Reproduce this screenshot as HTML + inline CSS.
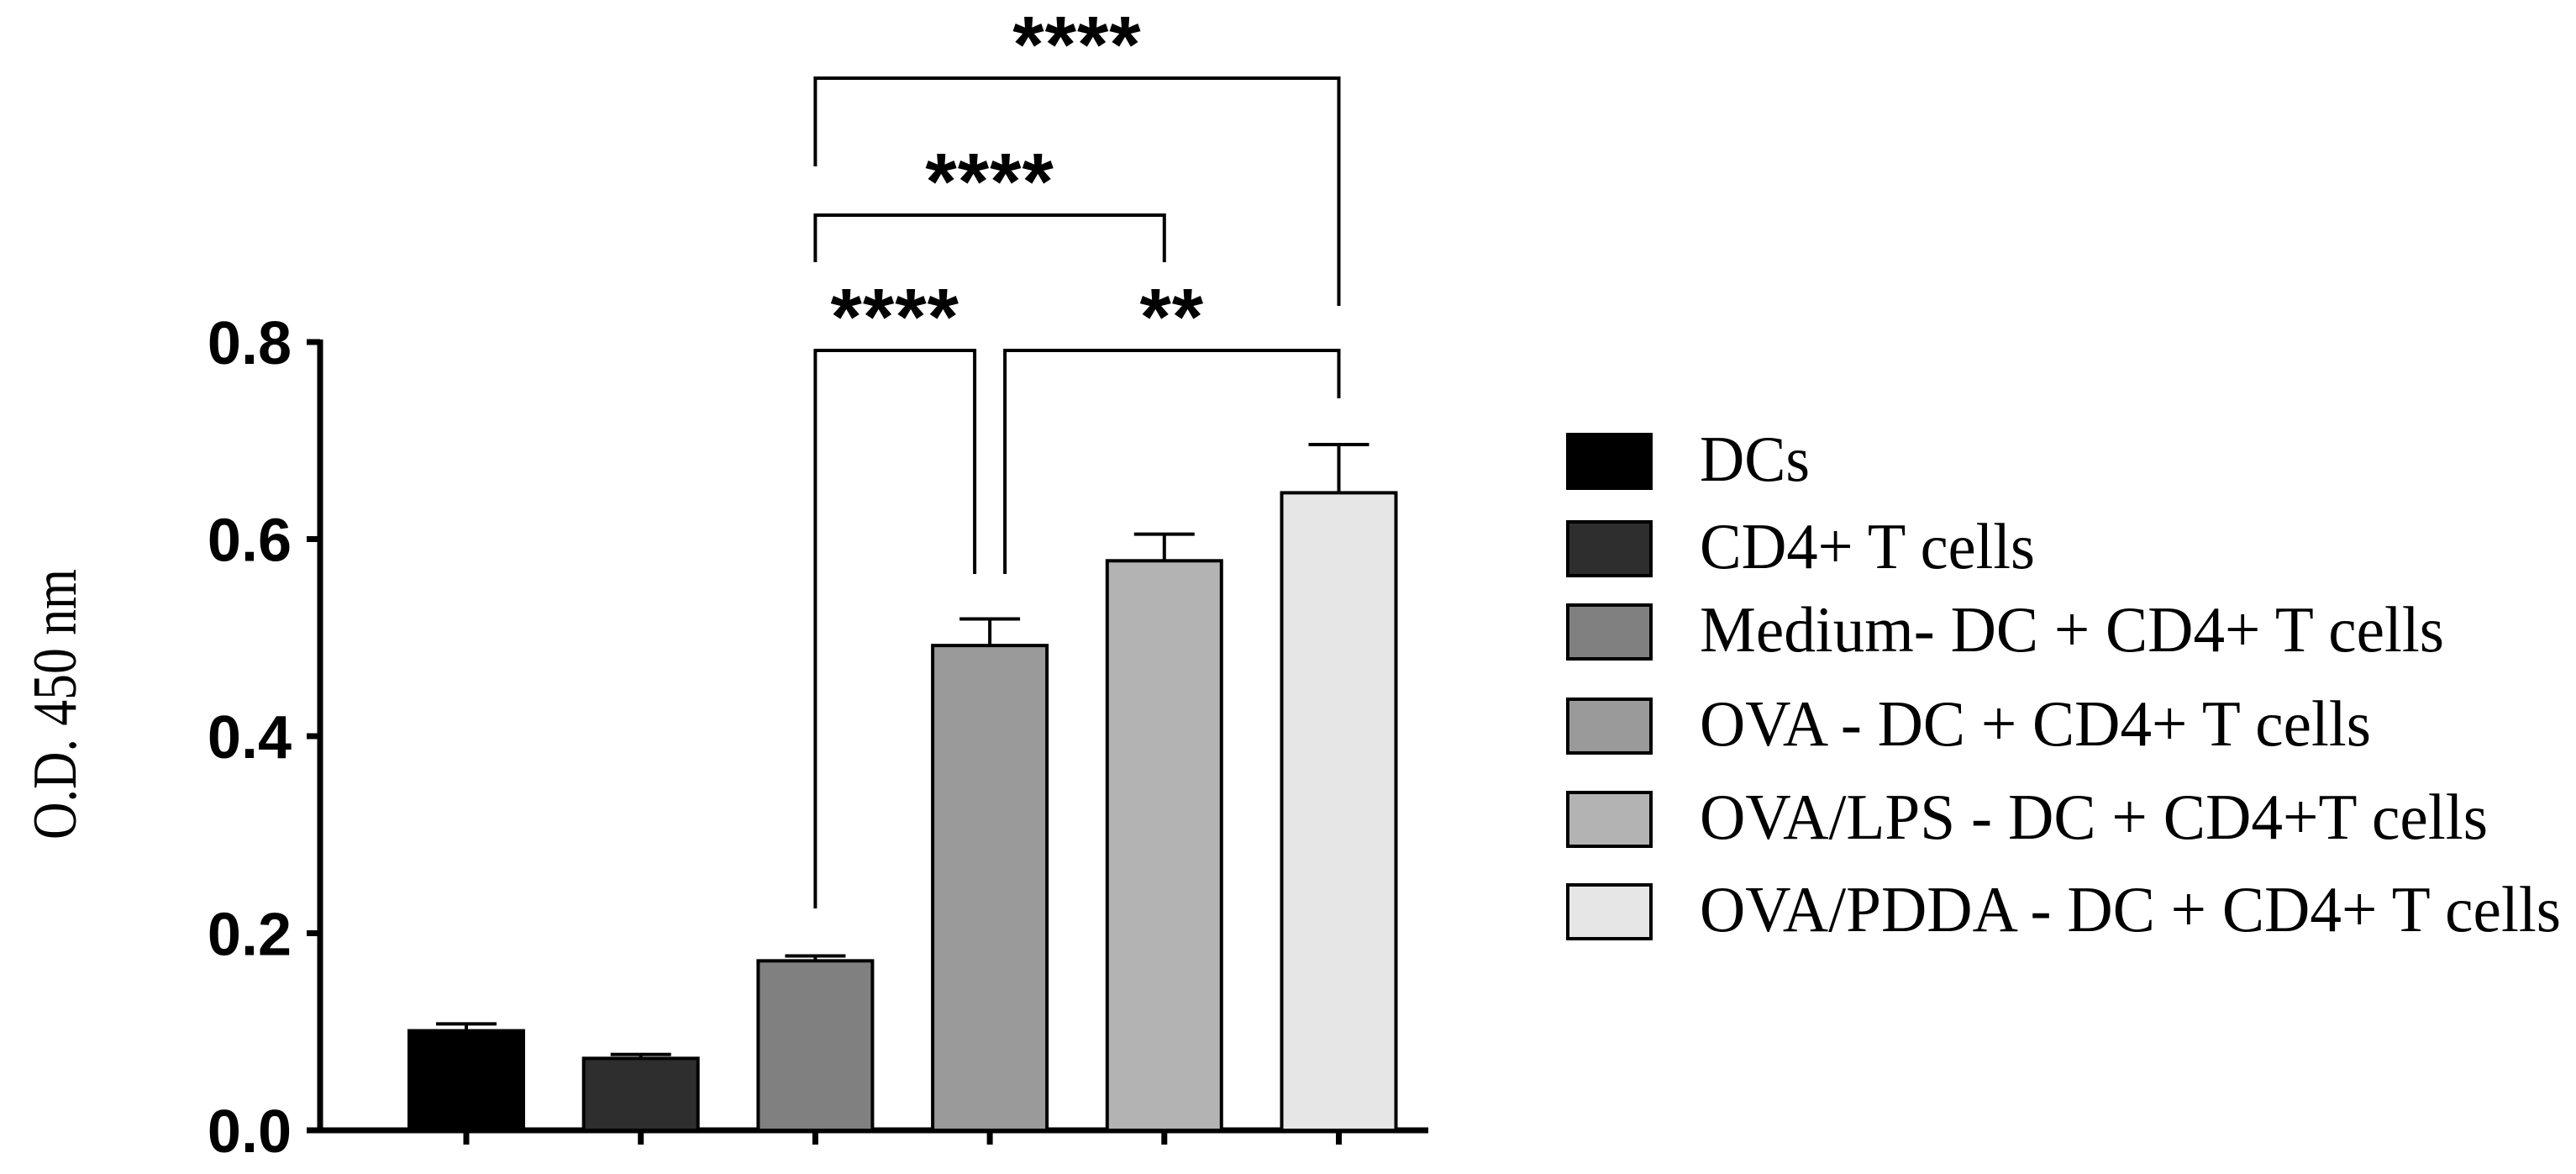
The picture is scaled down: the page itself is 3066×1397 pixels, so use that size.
<!DOCTYPE html>
<html><head><meta charset="utf-8"><style>
html,body{margin:0;padding:0;background:#fff;}
svg{display:block;}
</style></head><body>
<svg id="chart" width="3066" height="1397" viewBox="0 0 3066 1397" xmlns="http://www.w3.org/2000/svg">
<g id="plot"></g>
<g id="legend"></g>
</svg>
<script>
const categories = ["DCs","CD4+ T cells","Medium- DC + CD4+ T cells","OVA - DC + CD4+ T cells","OVA/LPS - DC + CD4+T cells","OVA/PDDA - DC + CD4+ T cells"];
const means = [0.101, 0.073, 0.172, 0.492, 0.578, 0.647];
const errors = [0.007, 0.004, 0.005, 0.027, 0.027, 0.049];
const fills = ["#000000","#2e2e2e","#808080","#9a9a9a","#b3b3b3","#e6e6e6"];
const yTicks = [0, 0.2, 0.4, 0.6, 0.8];
const yTickLabels = ["0.0","0.2","0.4","0.6","0.8"];
const legendLengths = [131, 399, 886, 799, 938, 1025];
// significance comparisons: [fromIndex, toIndex, label]
const sigPairs = [[2,5,"****"],[2,4,"****"],[2,3,"****"],[3,5,"**"]];

const NS = "http://www.w3.org/2000/svg";
const plot = document.getElementById('plot');
const legend = document.getElementById('legend');
function mk(tag, attrs, parent){ const e=document.createElementNS(NS,tag); for(const k in attrs) e.setAttribute(k,attrs[k]); parent.appendChild(e); return e; }

const y0 = 1345, pxPerUnit = 1172.5;
function yScale(v){ return y0 - v*pxPerUnit; }
const xFirst = 555, step = 207.7, barW = 136;
function xScale(i){ return xFirst + i*step; }

let ax = mk('line',{x1:381,y1:yScale(0.8)-3,x2:381,y2:y0+3,stroke:'#000','stroke-width':7},plot);
 
let xa = mk('line',{x1:365,y1:y0,x2:1700,y2:y0,stroke:'#000','stroke-width':7},plot);
 

yTicks.forEach((t,i)=>{
  const y=yScale(t);
  const tk=mk('line',{x1:365,y1:y,x2:381,y2:y,stroke:'#000','stroke-width':7},plot);
   
  const tx=mk('text',{x:347,y:y+26,'text-anchor':'end','font-family':'"Liberation Sans", sans-serif','font-weight':'bold','font-size':72},plot);
  tx.textContent=yTickLabels[i];
   
});

const yt=mk('text',{x:0,y:0,transform:'translate(90,838) rotate(-90)','text-anchor':'middle','font-family':'"Liberation Serif", serif','font-size':74,textLength:322,lengthAdjust:'spacingAndGlyphs'},plot);
yt.textContent='O.D. 450 nm';
 

means.forEach((m,i)=>{
  const cx=xScale(i), top=yScale(m), et=yScale(m+errors[i]);
  const xt=mk('line',{x1:cx,y1:y0,x2:cx,y2:y0+17,stroke:'#000','stroke-width':7},plot);
   
  const el=mk('line',{x1:cx,y1:top,x2:cx,y2:et,stroke:'#000','stroke-width':4},plot);
   
  const ec=mk('line',{x1:cx-36,y1:et,x2:cx+36,y2:et,stroke:'#000','stroke-width':4},plot);
   
  const r=mk('rect',{x:cx-barW/2,y:top,width:barW,height:y0-top,fill:fills[i],stroke:'#000','stroke-width':4},plot);
   
});

const bracketY = [93, 256, 417, 417];
const leftEnds = [198, 312, 1081, 683];
const rightEnds = [364, 312, 683, 474];
const xOff = [[0,0],[0,0],[0,-18],[18,0]];
sigPairs.forEach((p,k)=>{
  const xl=xScale(p[0])+xOff[k][0], xr=xScale(p[1])+xOff[k][1], by=bracketY[k];
  const pl=mk('polyline',{points:`${xl},${leftEnds[k]} ${xl},${by} ${xr},${by} ${xr},${rightEnds[k]}`,fill:'none',stroke:'#000','stroke-width':4},plot);
   
  const st=mk('text',{x:(xl+xr)/2,y:by-7,'text-anchor':'middle','font-family':'"Liberation Sans", sans-serif','font-weight':'bold','font-size':96,'letter-spacing':'1'},plot);
  st.textContent=p[2];
   
});

const legTops=[517,621,720,832,943,1053];
categories.forEach((c,i)=>{
  const sw=mk('rect',{x:1866,y:legTops[i],width:99,height:64,fill:fills[i],stroke:'#000','stroke-width':4},legend);
   
  const t=mk('text',{x:2023,y:legTops[i]+55,'font-family':'"Liberation Serif", serif','font-size':77,textLength:legendLengths[i],lengthAdjust:'spacingAndGlyphs'},legend);
  t.textContent=c;
   
});
</script>
</body></html>
